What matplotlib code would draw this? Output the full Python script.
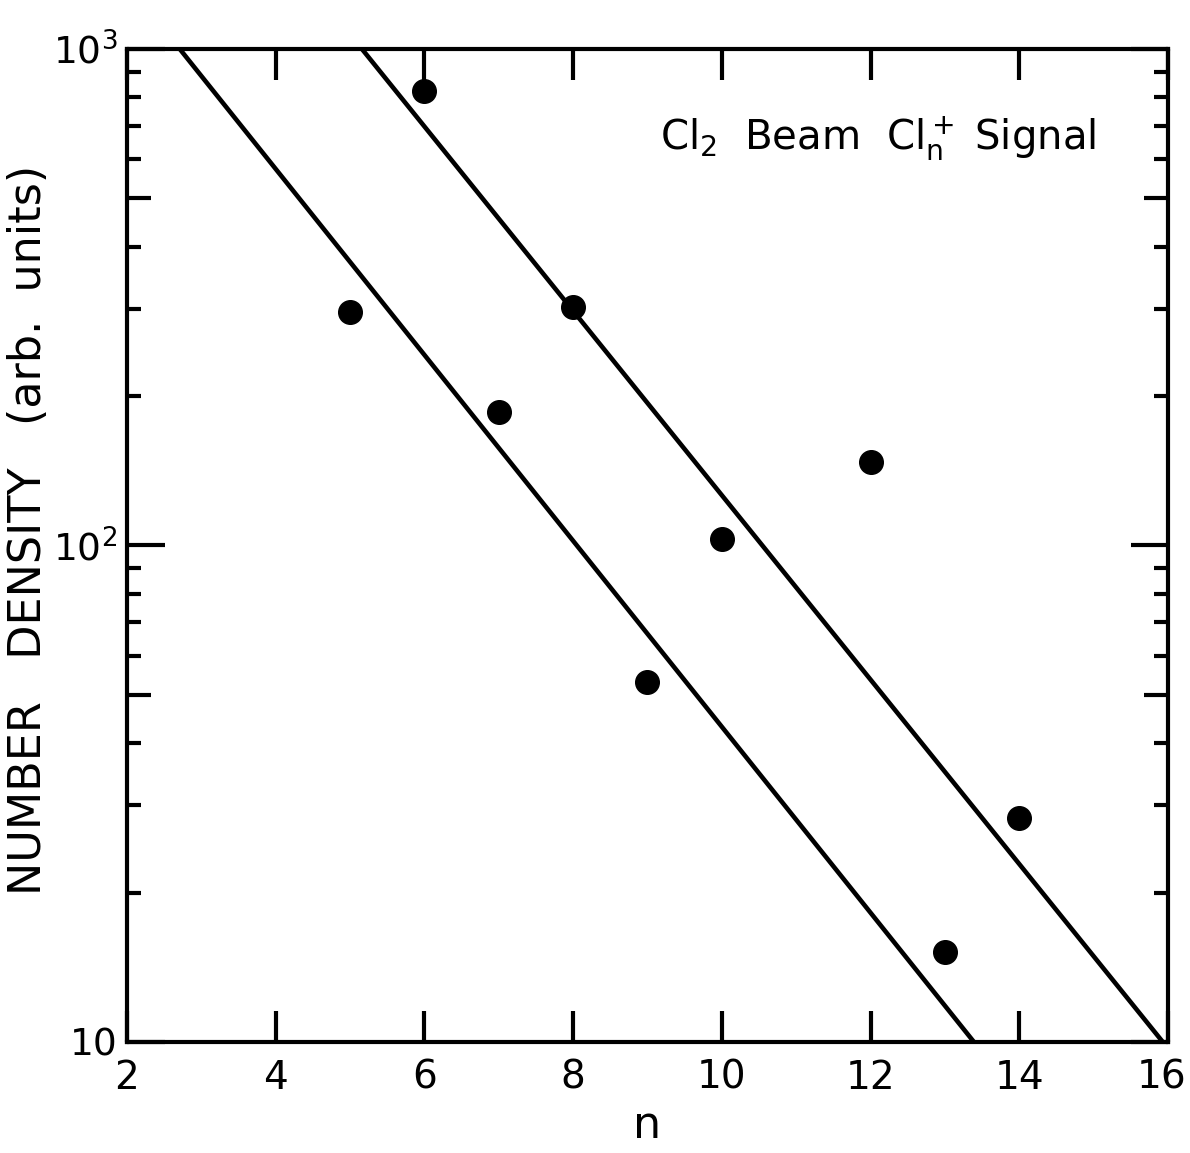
import numpy as np
import matplotlib.pyplot as plt
from matplotlib.ticker import FixedLocator, NullFormatter
from matplotlib.transforms import ScaledTranslation

plt.rcParams['font.family'] = 'DejaVu Sans'
plt.rcParams['mathtext.default'] = 'regular'

# cluster size and measured number density
n = [5, 6, 7, 8, 9, 10, 12, 13, 14]
density = [295, 823, 186, 302, 53.1, 103, 147, 15.2, 28.3]

# the two bounding lines (end points on the frame)
lower_n = [2.71, 13.39]
lower_d = [1000, 10]
upper_n = [5.16, 15.93]
upper_d = [1000, 10]

xticks = [2, 4, 6, 8, 10, 12, 14, 16]
yticks = [10, 100, 1000]
ytick_labels = ['10', '$10^{2}$', '$10^{3}$']

fig = plt.figure(figsize=(11.9, 11.53), dpi=100)
ax = fig.add_axes([0.1067, 0.0963, 0.8748, 0.8612])

ax.plot(lower_n, lower_d, color='black', lw=3.3, solid_capstyle='butt')
ax.plot(upper_n, upper_d, color='black', lw=3.3, solid_capstyle='butt')
ax.plot(n, density, 'o', color='black', ms=17)

ax.set_yscale('log')
ax.set_xlim(2, 16)
ax.set_ylim(10, 1000)

ax.set_xticks(xticks)
ax.set_xticklabels([str(t) for t in xticks])
ax.set_yticks(yticks)
ax.set_yticklabels(ytick_labels)
minors = [m * 10**e for e in (1, 2) for m in range(2, 10)]
ax.yaxis.set_minor_locator(FixedLocator(minors))
ax.yaxis.set_minor_formatter(NullFormatter())
ax.xaxis.set_minor_locator(FixedLocator([]))

for s in ax.spines.values():
    s.set_linewidth(3)

ax.tick_params(axis='x', which='major', direction='in', length=22, width=3,
               top=True, labelsize=28, pad=12)
ax.tick_params(axis='y', which='major', direction='in', length=27, width=3,
               right=True, labelsize=27, pad=7)
ax.tick_params(axis='y', which='minor', direction='in', length=10, width=3,
               right=True)

# the 5 x 10^k ticks are drawn a bit longer
for tick, loc in zip(ax.yaxis.get_minor_ticks(), minors):
    if round(loc / 10**np.floor(np.log10(loc))) == 5:
        tick.tick1line.set_markersize(17)
        tick.tick2line.set_markersize(17)

# keep the last x label inside the figure
last = ax.get_xticklabels()[-1]
last.set_transform(last.get_transform() + ScaledTranslation(-6 / 100, 0, fig.dpi_scale_trans))

ax.set_xlabel('n', fontsize=32)
ax.xaxis.label.set_va('baseline')
ax.xaxis.set_label_coords(0.5, -0.097)

ax.set_ylabel('NUMBER   DENSITY   (arb.  units)', fontsize=32)
ax.yaxis.label.set_va('center')
ax.yaxis.set_label_coords(-0.095, 0.516)

ax.text(0.512, 0.898, r'Cl$_2$  Beam  Cl$_n^+$ Signal', transform=ax.transAxes,
        fontsize=29, ha='left', va='baseline')

fig.savefig('out.png', dpi=100)
